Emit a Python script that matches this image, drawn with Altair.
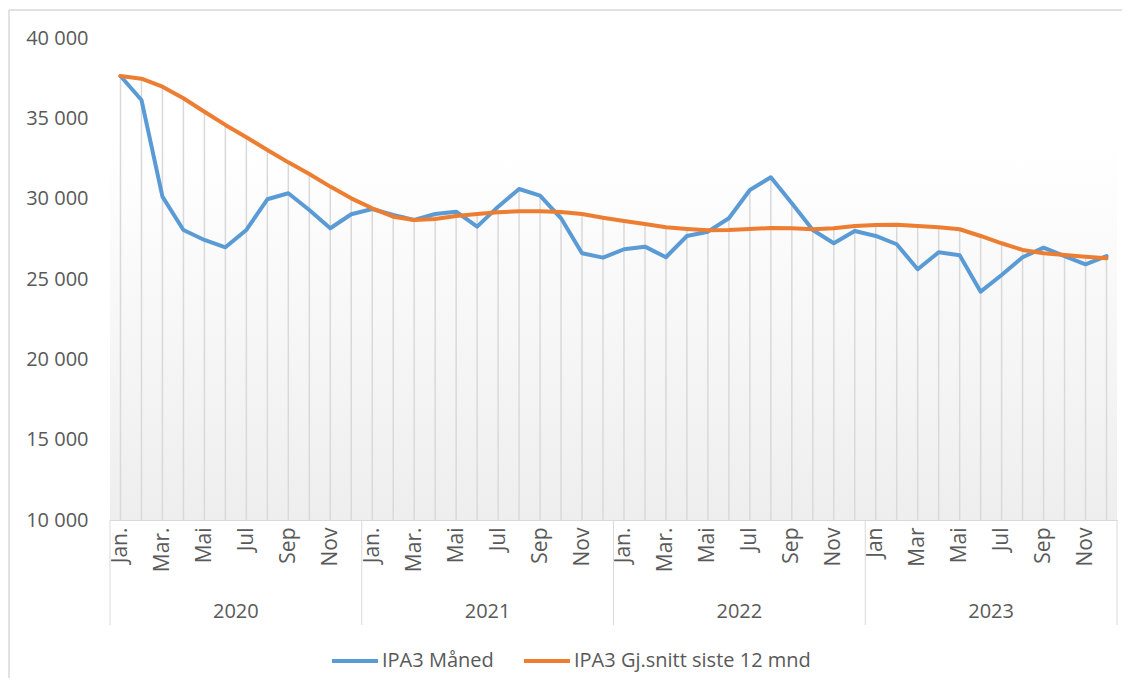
import json
import altair as alt
import pandas as pd

# ---------------- data ----------------
month_labels = ["Jan.", "Mar.", "Mai", "Jul", "Sep", "Nov"] * 3 + ["Jan", "Mar", "Mai", "Jul", "Sep", "Nov"]
years = ["2020", "2021", "2022", "2023"]
series_names = ["IPA3 Måned", "IPA3 Gj.snitt siste 12 mnd"]
y_ticks = [10000, 15000, 20000, 25000, 30000, 35000, 40000]

maaned = [
    37635, 36142, 30124, 28052, 27430, 26975, 28052, 29962, 30336, 29296, 28158, 29029,
    29359, 28985, 28674, 29047, 29190, 28257, 29502, 30603, 30186, 28780, 26602, 26328,
    26851, 27013, 26353, 27678, 27946, 28780, 30541, 31331, 29713, 28052, 27224, 27990,
    27678, 27163, 25606, 26664, 26477, 24212, 25252, 26353, 26950, 26428, 25917, 26428,
]
snitt = [
    37630, 37470, 36970, 36250, 35410, 34590, 33820, 33030, 32260, 31540, 30750, 30020,
    29400, 28880, 28674, 28737, 28923, 29047, 29153, 29215, 29215, 29172, 29047, 28817,
    28612, 28425, 28220, 28114, 28033, 28052, 28114, 28176, 28158, 28095, 28158, 28301,
    28363, 28382, 28301, 28220, 28095, 27678, 27224, 26807, 26602, 26497, 26390, 26290,
]

n = len(maaned)
FONT = "Open Sans"
TXT = "#595959"
GRID = "#d9d9d9"
BLUE = "#5B9BD5"
ORANGE = "#ED7D31"

df = pd.DataFrame({"i": list(range(n)), "maaned": maaned, "snitt": snitt})
df["top"] = df[["maaned", "snitt"]].max(axis=1)
df["base"] = y_ticks[0]

long_blue = pd.DataFrame({"i": list(range(n)), "v": maaned, "serie": series_names[0]})
long_orange = pd.DataFrame({"i": list(range(n)), "v": snitt, "serie": series_names[1]})

df_bg = pd.DataFrame({"i": [-0.5], "i2": [n - 0.5], "v": [33200], "v2": [y_ticks[0]]})
df_div = pd.DataFrame({"i": [k * 12 - 0.5 for k in range(len(years) + 1)]})
df_years = pd.DataFrame({"i": [k * 12 + 5.5 for k in range(len(years))], "label": years})

# ---------------- scales / axes ----------------
xscale = alt.Scale(domain=[-0.5, n - 0.5], nice=False, zero=False)
yscale = alt.Scale(domain=[y_ticks[0], y_ticks[-1]], nice=False, zero=False)

xaxis = alt.Axis(
    values=list(range(0, n, 2)),
    labelExpr=json.dumps(month_labels) + "[floor(datum.value / 2)]",
    labelAngle=270,
    labelAlign="right",
    labelBaseline="middle",
    labelFontSize=21,
    labelColor=TXT,
    labelFont=FONT,
    labelPadding=7,
    labelOverlap=False,
    labelFlush=False,
    ticks=False,
    grid=False,
    domain=True,
    domainColor=GRID,
    domainWidth=1,
)
yaxis = alt.Axis(
    values=y_ticks,
    labelExpr="replace(format(datum.value, ','), ',', ' ')",
    labelFontSize=20,
    labelColor=TXT,
    labelFont=FONT,
    labelPadding=22,
    ticks=False,
    grid=False,
    domain=False,
)

x_enc = alt.X("i:Q", scale=xscale, axis=xaxis, title=None)

color_enc = alt.Color(
    "serie:N",
    scale=alt.Scale(domain=series_names, range=[BLUE, ORANGE]),
    legend=alt.Legend(
        title=None,
        orient="none",
        legendX=220,
        legendY=598,
        padding=0,
        direction="horizontal",
        symbolType="stroke",
        symbolSize=2116,
        symbolStrokeWidth=4,
        labelFontSize=20,
        labelFont=FONT,
        labelColor=TXT,
        labelOffset=2,
        labelLimit=400,
        columnPadding=22,
    ),
)

# ---------------- layers ----------------
one = pd.DataFrame({"d": [0]})
border_left = alt.Chart(one).mark_rule(color=GRID, strokeWidth=1.5).encode(
    x=alt.value(-101), y=alt.value(-28), y2=alt.value(640)
)
border_top = alt.Chart(one).mark_rule(color=GRID, strokeWidth=1.5).encode(
    x=alt.value(-101), x2=alt.value(1012), y=alt.value(-28)
)

bg = alt.Chart(df_bg).mark_rect(
    fill=alt.Gradient(
        gradient="linear",
        stops=[alt.GradientStop(color="#ffffff", offset=0),
               alt.GradientStop(color="#eeeeee", offset=1)],
        x1=0, x2=0, y1=0, y2=1,
    )
).encode(
    x=x_enc, x2="i2",
    y=alt.Y("v:Q", scale=yscale, axis=yaxis, title=None), y2="v2",
)

drops = alt.Chart(df).mark_rule(color=GRID, strokeWidth=1.5).encode(
    x=x_enc,
    y=alt.Y("top:Q", scale=yscale, axis=yaxis, title=None),
    y2="base",
)

dividers = alt.Chart(df_div).mark_rule(color=GRID, strokeWidth=1).encode(
    x=x_enc, y=alt.value(482), y2=alt.value(587)
)

year_text = alt.Chart(df_years).mark_text(
    fontSize=20, font=FONT, color=TXT, baseline="middle", align="center"
).encode(x=x_enc, y=alt.value(574), text="label:N")

line_blue = alt.Chart(long_blue).mark_line(
    strokeWidth=4, strokeCap="round", strokeJoin="round"
).encode(
    x=x_enc, y=alt.Y("v:Q", scale=yscale, axis=yaxis, title=None), color=color_enc
)
line_orange = alt.Chart(long_orange).mark_line(
    strokeWidth=4, strokeCap="round", strokeJoin="round"
).encode(
    x=x_enc, y=alt.Y("v:Q", scale=yscale, axis=yaxis, title=None), color=color_enc
)

chart = alt.layer(
    border_left, border_top, bg, drops, dividers, year_text, line_blue, line_orange
).properties(
    width=1007,
    height=482,
    padding={"left": 102, "top": 30, "right": 8, "bottom": 160},
    autosize=alt.AutoSizeParams(type="none"),
    background="white",
).configure_view(stroke=None)

chart.save("out.html", embed_options={"renderer": "svg", "actions": False})
